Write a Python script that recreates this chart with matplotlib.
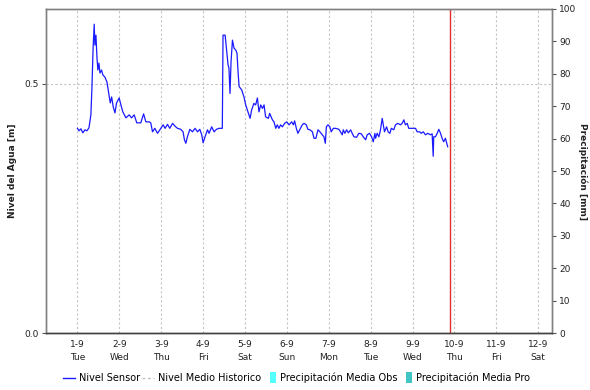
import matplotlib
matplotlib.use("Agg")
import matplotlib.pyplot as plt
from matplotlib.lines import Line2D
from matplotlib.patches import Patch, Rectangle
from matplotlib.legend_handler import HandlerPatch, HandlerBase
from datetime import datetime, timedelta

# ---------------- data ----------------
start = datetime(2020, 9, 1)
hours = [0, 0.9, 2.0, 3.1, 4.3, 5.4, 6.6, 7.7, 8.3, 9.0, 9.6, 10.0, 10.6, 11.2, 11.7, 12.3,
         12.9, 13.8, 14.6, 15.7, 16.9, 17.8, 18.8, 19.6, 20.5, 21.5, 22.4, 23.9, 24.9, 26.0,
         27.8, 29.6, 31.0, 32.5, 34.0, 36.3, 37.9, 39.2, 41.1, 42.0, 43.0, 44.3, 45.9, 47.8,
         49.1, 50.2, 51.6, 52.9, 54.5, 56.0, 57.3, 59.2, 60.5, 61.3, 62.1, 63.0, 64.4, 65.9,
         67.4, 68.8, 70.1, 71.2, 72.0, 73.1, 74.5, 75.4, 76.9, 78.3, 79.6, 81.1, 83.0, 83.4,
         84.6, 85.5, 86.3, 86.8, 87.4, 88.0, 88.8, 89.7, 90.7, 91.4, 92.0, 92.6, 94.1, 95.4,
         96.4, 97.7, 98.9, 99.8, 101.1, 102.1, 103.1, 104.0, 105.0, 106.0, 106.9, 107.8, 109.4,
         110.1, 111.7, 112.6, 113.6, 114.5, 115.4, 116.4, 117.4, 118.7, 119.9, 121.2, 122.7,
         123.7, 124.4, 125.4, 126.3, 127.5, 128.8, 129.8, 131.1, 132.0, 133.2, 134.6, 135.5,
         136.6, 137.8, 138.9, 140.3, 141.2, 142.0, 142.6, 143.5, 144.6, 145.4, 146.6, 147.9,
         149.8, 150.7, 151.7, 152.3, 153.2, 154.2, 155.2, 156.5, 157.4, 158.4, 159.9, 161.2,
         162.6, 163.7, 165.1, 166.0, 167.3, 168.5, 169.5, 170.4, 170.8, 171.7, 172.7, 173.6,
         174.6, 175.2, 175.9, 177.1, 178.0, 179.0, 179.8, 181.2, 182.2, 183.5, 185.1, 186.0,
         187.0, 187.9, 188.9, 189.8, 191.8, 193.7, 194.6, 196.1, 196.9, 198.1, 199.4, 200.7,
         202.2, 203.2, 203.8, 204.1, 205.1, 206.1, 207.0, 208.0, 208.9, 209.8, 210.8, 212.1]
nivel_sensor = [0.411, 0.406, 0.410, 0.402, 0.408, 0.406, 0.412, 0.438, 0.492, 0.575, 0.620,
                0.578, 0.598, 0.552, 0.528, 0.542, 0.522, 0.528, 0.518, 0.514, 0.504, 0.484,
                0.462, 0.474, 0.454, 0.442, 0.462, 0.472, 0.458, 0.444, 0.432, 0.438, 0.432,
                0.438, 0.422, 0.422, 0.440, 0.424, 0.424, 0.422, 0.404, 0.411, 0.401, 0.411,
                0.418, 0.411, 0.419, 0.411, 0.421, 0.415, 0.411, 0.409, 0.404, 0.388, 0.381,
                0.394, 0.409, 0.404, 0.411, 0.404, 0.409, 0.398, 0.382, 0.394, 0.408, 0.401,
                0.414, 0.404, 0.409, 0.411, 0.411, 0.598, 0.598, 0.565, 0.538, 0.532, 0.481,
                0.545, 0.588, 0.572, 0.568, 0.562, 0.525, 0.495, 0.488, 0.474, 0.458, 0.444,
                0.431, 0.448, 0.461, 0.458, 0.472, 0.444, 0.458, 0.451, 0.458, 0.434, 0.431,
                0.441, 0.428, 0.424, 0.411, 0.418, 0.411, 0.418, 0.414, 0.421, 0.424, 0.418,
                0.424, 0.418, 0.426, 0.411, 0.401, 0.409, 0.418, 0.421, 0.418, 0.409, 0.408,
                0.404, 0.391, 0.391, 0.408, 0.404, 0.398, 0.394, 0.381, 0.414, 0.418, 0.414,
                0.404, 0.411, 0.411, 0.409, 0.404, 0.398, 0.408, 0.401, 0.408, 0.402, 0.408,
                0.401, 0.394, 0.393, 0.401, 0.400, 0.394, 0.388, 0.398, 0.401, 0.394, 0.384,
                0.401, 0.391, 0.401, 0.394, 0.408, 0.431, 0.418, 0.404, 0.414, 0.404, 0.401,
                0.411, 0.408, 0.418, 0.421, 0.418, 0.421, 0.428, 0.418, 0.421, 0.411, 0.411,
                0.411, 0.404, 0.404, 0.401, 0.404, 0.398, 0.401, 0.398, 0.400, 0.355, 0.394,
                0.394, 0.401, 0.409, 0.401, 0.391, 0.384, 0.391, 0.374]
now_hours = 213.2  # current-time marker (red line)

day_labels = ['1-9', '2-9', '3-9', '4-9', '5-9', '6-9', '7-9', '8-9', '9-9', '10-9', '11-9', '12-9']
weekday_labels = ['Tue', 'Wed', 'Thu', 'Fri', 'Sat', 'Sun', 'Mon', 'Tue', 'Wed', 'Thu', 'Fri', 'Sat']
level_ticks = [0.0, 0.5]
precip_ticks = [0, 10, 20, 30, 40, 50, 60, 70, 80, 90, 100]

legend_labels = ['Nivel Sensor', 'Nivel Medio Historico',
                 'Precipitación Media Obs', 'Precipitación Media Pro']

# ---------------- plot ----------------
fig = plt.figure(figsize=(5.9, 3.9), dpi=100)
ax = fig.add_axes([0.078, 0.146, 0.858, 0.831])
ax2 = ax.twinx()

times = [start + timedelta(hours=h) for h in hours]
ax.plot(times, nivel_sensor, color='#1a1aff', lw=0.9, zorder=3)
ax.axvline(start + timedelta(hours=now_hours), color='#e03030', lw=1.0, zorder=4)

xmin = start - timedelta(hours=18)
xmax = start + timedelta(days=11, hours=8)
ax.set_xlim(xmin, xmax)
ax.set_ylim(0, 0.6506)
ax2.set_ylim(0, 100)

tick_dates = [start + timedelta(days=i) for i in range(len(day_labels))]
ax.set_xticks(tick_dates)
ax.set_xticklabels([f"{d}\n{w}" for d, w in zip(day_labels, weekday_labels)],
                   fontsize=6.5, color='#222222', linespacing=1.5)
ax.set_yticks(level_ticks)
ax.set_yticklabels([f"{v:.1f}" for v in level_ticks], fontsize=6.5, color='#222222')
ax2.set_yticks(precip_ticks)
ax2.set_yticklabels([str(v) for v in precip_ticks], fontsize=6.5, color='#222222')

ax.tick_params(axis='x', length=0, pad=5)
ax.tick_params(axis='y', length=3, width=0.8, color='#555555', pad=2)
ax2.tick_params(axis='y', length=3, width=0.8, color='#555555', pad=2)

ax.grid(True, color='#c4c4c4', linestyle=(0, (2, 2)), lw=0.8)
ax.set_axisbelow(True)

for a in (ax, ax2):
    for s in ('left', 'right', 'top'):
        a.spines[s].set_color('#808080')
        a.spines[s].set_linewidth(1.0)
    a.spines['bottom'].set_color('#404040')
    a.spines['bottom'].set_linestyle((0, (1, 1)))
    a.spines['bottom'].set_linewidth(1.0)

ax.set_ylabel('Nivel del Agua [m]', fontsize=6.5, color='#222222', fontweight='bold')
ax.yaxis.set_label_coords(-0.057, 0.5)
ax2.set_ylabel('Precipitación [mm]', fontsize=6.5, color='#222222', rotation=270,
               fontweight='bold', va='center')
ax2.yaxis.set_label_coords(1.061, 0.5)


def narrow_patch(legend, orig_handle, xdescent, ydescent, width, height, fontsize):
    return Rectangle((-xdescent, -ydescent - 1), width, height + 2)


class LongLine(HandlerBase):
    def create_artists(self, legend, orig_handle, xdescent, ydescent, width, height,
                       fontsize, trans):
        y = height / 2 - ydescent
        ln = Line2D([-xdescent - 4.3, -xdescent + width], [y, y],
                    color=orig_handle.get_color(), lw=orig_handle.get_linewidth(),
                    linestyle=orig_handle.get_linestyle(), transform=trans)
        if orig_handle.get_linestyle() != '-':
            ln.set_dashes((2, 2))
        return [ln]


handles = [Line2D([], [], color='#1a1aff', lw=1.0),
           Line2D([], [], color='#c0c0c0', lw=1.0, linestyle='--'),
           Patch(facecolor='#55ffff', edgecolor='none'),
           Patch(facecolor='#40c4c4', edgecolor='none')]
fig.legend(handles, legend_labels, loc='center', bbox_to_anchor=(0.507, 0.031), ncol=4,
           frameon=False, fontsize=7, handlelength=0.62, handletextpad=0.42,
           columnspacing=0.85, handleheight=0.9,
           handler_map={Patch: HandlerPatch(patch_func=narrow_patch),
                        Line2D: LongLine()})

fig.savefig('out.png', dpi=100)
